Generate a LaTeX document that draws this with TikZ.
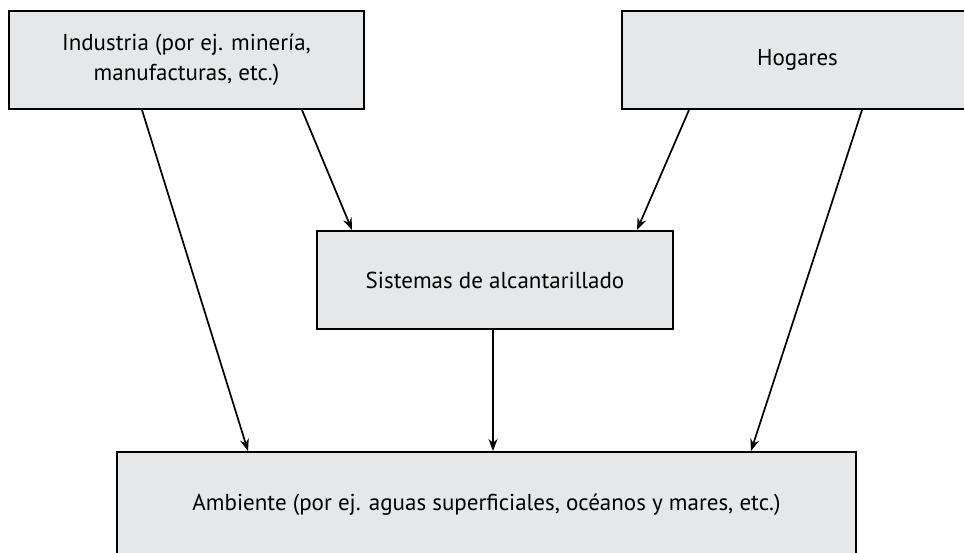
\documentclass[tikz,border=0pt]{standalone}
\usepackage{fontspec}
\setmainfont{PT Sans}
\usetikzlibrary{arrows.meta,calc}
\definecolor{boxfill}{HTML}{E6E7E8}
\begin{document}
\begin{tikzpicture}[x=1pt,y=-1pt,
  box/.style={draw=black,fill=boxfill,line width=2pt,inner sep=0pt,align=center,
    font=\fontsize{23}{30}\selectfont},
  conn/.style={line width=1.7pt,-{Stealth[length=12pt,width=9pt]}}]
\useasboundingbox (0,0) rectangle (964,552);
\node[box,minimum width=355pt,minimum height=98pt] (ind) at (186.5,60) {Industria (por ej. minería,\\manufacturas, etc.)};
\node[box,minimum width=351pt,minimum height=98pt] (hog) at (797.5,60) {Hogares};
\node[box,minimum width=356pt,minimum height=98pt] (sis) at (495,280) {Sistemas de alcantarillado};
\node[box,minimum width=739pt,minimum height=106pt] (amb) at (486.5,505) {Ambiente (por ej. aguas superficiales, océanos y mares, etc.)};
\draw[conn] ([xshift=134pt]ind.south west) -- ([xshift=132pt]amb.north west);
\draw[conn] ([xshift=294pt]ind.south west) -- ([xshift=36pt]sis.north west);
\draw[conn] ([xshift=68pt]hog.south west) -- ([xshift=-37pt]sis.north east);
\draw[conn] ([xshift=241pt]hog.south west) -- ([xshift=635pt]amb.north west);
\draw[conn] ([xshift=-2pt]sis.south) -- ([xshift=-2pt]sis.south |- amb.north);
\end{tikzpicture}
\end{document}
